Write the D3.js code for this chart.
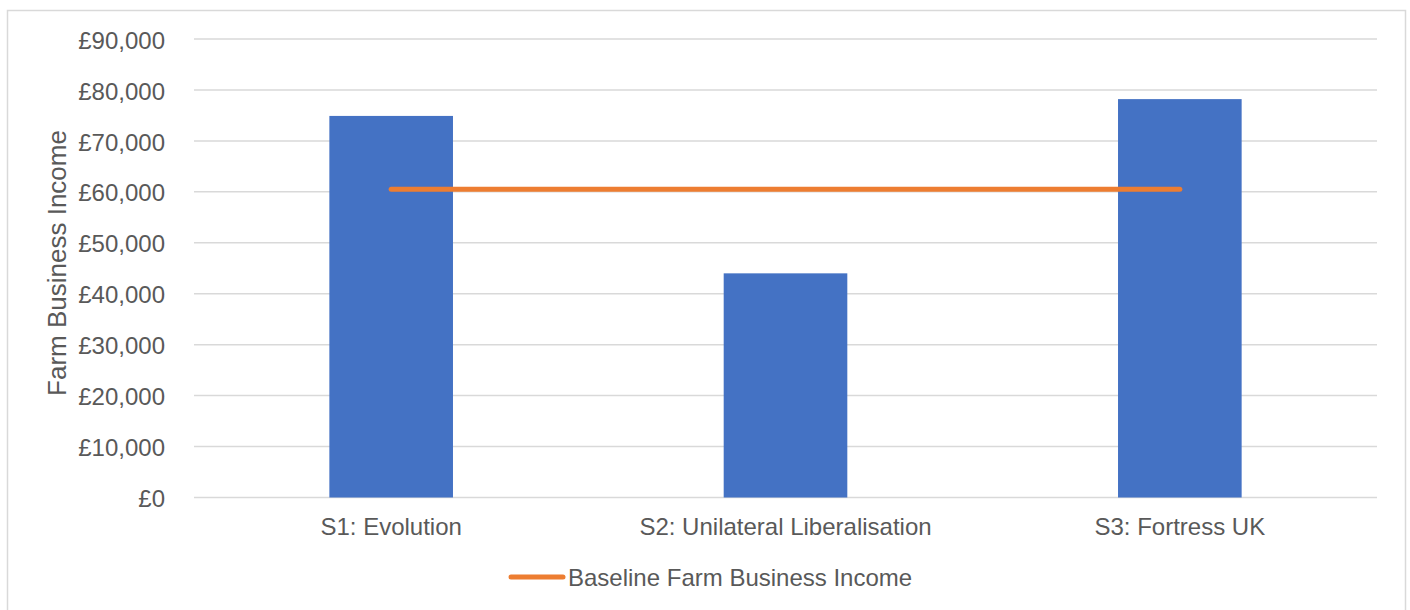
<!DOCTYPE html>
<html>
<head>
<meta charset="utf-8">
<script src="https://cdn.jsdelivr.net/npm/d3@7"></script>
<style>
  html, body { margin: 0; padding: 0; background: #fff; }
  svg text { font-family: "Liberation Sans", Arial, sans-serif; fill: #595959; }
</style>
</head>
<body>
<svg id="chart" width="1410" height="610"></svg>
<script>
const categories = ["S1: Evolution", "S2: Unilateral Liberalisation", "S3: Fortress UK"];
const barValues = [74900, 44000, 78200];
const baselineValues = [60500, 60500, 60500];
const baselineName = "Baseline Farm Business Income";
const yTicks = [0, 10000, 20000, 30000, 40000, 50000, 60000, 70000, 80000, 90000];
const yTitle = "Farm Business Income";

const svg = d3.select("#chart");

// chart border
svg.append("rect").attr("x", 7.5).attr("y", 10.5).attr("width", 1398).attr("height", 620)
  .attr("fill", "none").attr("stroke", "#d9d9d9").attr("stroke-width", 1.5);

const plot = { left: 194, right: 1377, top: 39, bottom: 497.5 };

const x = d3.scaleBand().domain(categories).range([plot.left, plot.right])
  .paddingInner(0.6865).paddingOuter(0.6865 / 2);
const y = d3.scaleLinear().domain([0, 90000]).range([plot.bottom, plot.top]);

// gridlines
svg.append("g").selectAll("line").data(yTicks).join("line")
  .attr("x1", plot.left).attr("x2", plot.right)
  .attr("y1", d => y(d)).attr("y2", d => y(d))
  .attr("stroke", "#d9d9d9").attr("stroke-width", 1.5);

// y axis labels
const fmt = d => "£" + d3.format(",")(d);
const yAxis = d3.axisLeft(y).tickValues(yTicks).tickFormat(fmt).tickSize(0).tickPadding(29);
const gy = svg.append("g").attr("transform", `translate(${plot.left},0)`).call(yAxis);
gy.select(".domain").remove();
gy.selectAll("text").attr("font-size", 24).attr("font-family", "Liberation Sans, Arial, sans-serif")
  .attr("fill", "#595959").attr("dy", "0.38em");

// bars
svg.append("g").selectAll("rect").data(categories).join("rect")
  .attr("x", d => x(d)).attr("width", x.bandwidth())
  .attr("y", (d, i) => y(barValues[i])).attr("height", (d, i) => y(0) - y(barValues[i]))
  .attr("fill", "#4472C4");

// baseline line
const line = d3.line().x((d, i) => x(categories[i]) + x.bandwidth() / 2).y(d => y(d));
svg.append("path").datum(baselineValues).attr("d", line)
  .attr("fill", "none").attr("stroke", "#ED7D31").attr("stroke-width", 5)
  .attr("stroke-linecap", "round");

// x axis labels
const xAxis = d3.axisBottom(x).tickSize(0).tickPadding(20);
const gx = svg.append("g").attr("transform", `translate(0,${plot.bottom})`).call(xAxis);
gx.select(".domain").remove();
gx.selectAll("text").attr("font-size", 24).attr("font-family", "Liberation Sans, Arial, sans-serif")
  .attr("fill", "#595959");

// y title
svg.append("text").attr("transform", `translate(66,263) rotate(-90)`)
  .attr("text-anchor", "middle").attr("font-size", 26).text(yTitle);

// legend
const lg = svg.append("g").attr("transform", "translate(0,577)");
lg.append("line").attr("x1", 511).attr("x2", 563).attr("y1", 0).attr("y2", 0)
  .attr("stroke", "#ED7D31").attr("stroke-width", 5).attr("stroke-linecap", "round");
lg.append("text").attr("x", 568).attr("y", 0).attr("dy", "0.38em").attr("font-size", 24).text(baselineName);
</script>
</body>
</html>
